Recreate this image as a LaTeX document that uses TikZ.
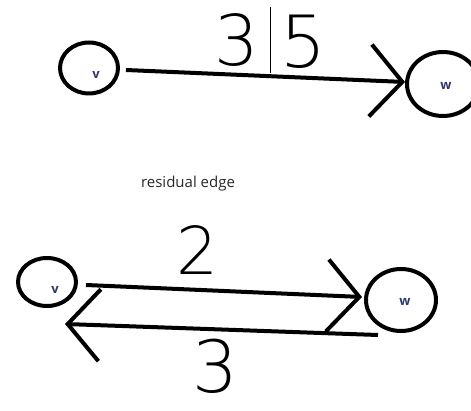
\documentclass[tikz,border=0pt]{standalone}
\usepackage{fontspec}
\newfontfamily\capfont{Open Sans}
\newfontfamily\handfont{DejaVu Sans ExtraLight}
\usetikzlibrary{arrows.meta,shapes.geometric}
\definecolor{vlabel}{RGB}{45,55,105}
\definecolor{captext}{RGB}{40,40,40}
\tikzset{
  vertex/.style={draw, ellipse, line width=4pt, inner sep=0pt},
  vname/.style={text=vlabel, font=\capfont\bfseries\fontsize{13}{13}\selectfont},
  edge/.style={line width=4pt, -{Straight Barb[length=32pt,width=72pt,line width=4pt]}},
  weight/.style={font=\handfont\fontsize{#1}{#1}\selectfont}
}
\begin{document}
\begin{tikzpicture}[x=1pt,y=-1pt]
            \clip (0,0) rectangle (471,411);
            % v -> w with flow 3 of capacity 5
            \node [vertex, minimum width=58pt, minimum height=51pt] (v1) at (89,68) {};
            \node [vertex, minimum width=72pt, minimum height=64pt] (w1) at (443,84) {};
            \path (96,75) node [vname] (v1name) {v} (446,86) node [vname] (w1name) {w};
            \draw [edge] ([shift={(6,2)}]v1.east) -- ([shift={(0,-2)}]w1.west);
            \path (237,40) node [weight=70] (flow) {3} (303,42) node [weight=72] (cap) {5};
            \draw [line width=0.8pt] (270,7) -- (270,73);
            \path (188,184) node [text=captext, font=\capfont\fontsize{15}{17}\selectfont] (caption) {residual edge};
            % residual graph
            \node [vertex, minimum width=58pt, minimum height=48pt] (v2) at (47,282) {};
            \node [vertex, minimum width=70pt, minimum height=62pt] (w2) at (401,300) {};
            \path (55,290) node [vname] (v2name) {v} (405,302) node [vname] (w2name) {w};
            \draw [edge] ([shift={(8,3)}]v2.east) -- ([shift={(-2,-3)}]w2.west);
            \draw [edge] ([shift={(-23,2)}]w2.south) -- ([shift={(18,16)}]v2.south);
            \path (197,250) node [weight=66] (fwd) {2} (215,366) node [weight=72] (back) {3};
        \end{tikzpicture}
\end{document}
